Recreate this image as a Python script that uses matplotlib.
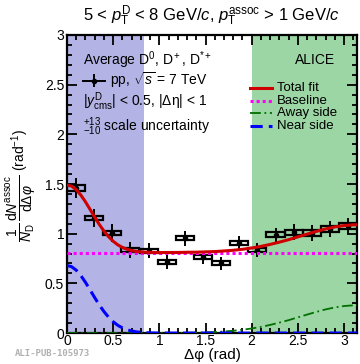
import numpy as np
import matplotlib
matplotlib.use('Agg')
import matplotlib.pyplot as plt
from matplotlib.patches import Rectangle
from matplotlib.ticker import MultipleLocator, FormatStrFormatter

plt.rcParams['font.family'] = ['Liberation Sans', 'DejaVu Sans']
plt.rcParams['mathtext.fontset'] = 'custom'
plt.rcParams['mathtext.rm'] = 'Liberation Sans'
plt.rcParams['mathtext.it'] = 'Liberation Sans:italic'
plt.rcParams['mathtext.bf'] = 'Liberation Sans:bold'

# ----------------------- #
# D-hadron azimuthal correlation, pp 7 TeV
# ----------------------- #

# data points (bin centres, yield, stat err, syst box half-height)
dphi = [0.098, 0.295, 0.491, 0.687, 0.884, 1.080, 1.276, 1.473,
        1.669, 1.865, 2.062, 2.258, 2.454, 2.651, 2.847, 3.043]
yields = [1.457, 1.155, 1.004, 0.836, 0.829, 0.718, 0.953, 0.762,
          0.702, 0.903, 0.832, 0.987, 1.014, 1.004, 1.044, 1.077]
stat_err = [0.10, 0.09, 0.09, 0.08, 0.075, 0.07, 0.075, 0.065,
            0.067, 0.075, 0.07, 0.072, 0.08, 0.08, 0.08, 0.085]
syst_err = [0.03, 0.022, 0.02, 0.02, 0.02, 0.02, 0.02, 0.02,
            0.02, 0.02, 0.02, 0.025, 0.025, 0.03, 0.03, 0.03]
bin_width = 0.196

# fit components
fit_x = [0.0, 0.05, 0.1, 0.15, 0.2, 0.25, 0.3, 0.35, 0.4, 0.45, 0.5, 0.55, 0.6, 0.65,
         0.7, 0.75, 0.8, 0.85, 0.9, 1.0, 1.1, 1.2, 1.3, 1.4, 1.5, 1.6, 1.7, 1.8, 1.9,
         2.0, 2.1, 2.2, 2.3, 2.4, 2.5, 2.6, 2.7, 2.8, 2.9, 3.0, 3.1, 3.1416]
near_side = [0.680, 0.668, 0.633, 0.579, 0.511, 0.435, 0.357, 0.283, 0.217, 0.160,
             0.114, 0.078, 0.052, 0.033, 0.021, 0.012, 0.007, 0.004, 0.002, 0.0,
             0.0, 0.0, 0.0, 0.0, 0.0, 0.0, 0.0, 0.0, 0.0, 0.0, 0.0, 0.0, 0.0, 0.0,
             0.0, 0.0, 0.0, 0.0, 0.0, 0.0, 0.0, 0.0]
away_side = [0.0, 0.0, 0.0, 0.0, 0.0, 0.0, 0.0, 0.0, 0.0, 0.0, 0.0, 0.0, 0.0, 0.0,
             0.0, 0.0, 0.0, 0.0, 0.0, 0.0, 0.001, 0.001, 0.003, 0.004, 0.007, 0.010,
             0.016, 0.023, 0.033, 0.046, 0.062, 0.082, 0.105, 0.130, 0.158, 0.186,
             0.213, 0.238, 0.258, 0.272, 0.279, 0.280]
total_fit = [1.490, 1.478, 1.443, 1.389, 1.321, 1.245, 1.167, 1.093, 1.027, 0.970,
             0.924, 0.888, 0.862, 0.843, 0.831, 0.822, 0.817, 0.814, 0.812, 0.810,
             0.811, 0.811, 0.813, 0.814, 0.817, 0.820, 0.826, 0.833, 0.843, 0.856,
             0.872, 0.892, 0.915, 0.940, 0.968, 0.996, 1.023, 1.048, 1.068, 1.082,
             1.089, 1.090]
baseline = 0.81

near_region = [0.0, 0.83]
away_region = [2.0, np.pi]

fig = plt.figure(figsize=(3.6, 3.64), dpi=100)
ax = fig.add_axes([0.186, 0.085, 0.806, 0.819])

# shaded regions
ax.axvspan(near_region[0], near_region[1], color='#b3b3e6', lw=0, zorder=0)
ax.axvspan(away_region[0], away_region[1], color='#9cd6a4', lw=0, zorder=0)

# systematic boxes
for x, y, s in zip(dphi, yields, syst_err):
    ax.add_patch(Rectangle((x - bin_width / 2, y - s), bin_width, 2 * s,
                           fill=False, edgecolor='black', lw=1.6, zorder=3))
# stat errors
ax.errorbar(dphi, yields, yerr=stat_err, fmt='o', ms=3, color='black',
            elinewidth=1.4, capsize=0, zorder=4)

# fit curves
ax.plot([0, np.pi], [baseline, baseline], color='#ff00ff', lw=2.2, ls=(0, (1, 1)), zorder=5)
ax.plot(fit_x, away_side, color='#007000', lw=1.3, ls=(0, (6, 2, 1, 2)), zorder=5)
ax.plot(fit_x, near_side, color='#0000ff', lw=2.2, ls=(0, (4, 2)), zorder=5)
ax.plot(fit_x, total_fit, color='#d00000', lw=2.2, zorder=6)

ax.set_xlim(0, np.pi)
ax.set_ylim(0, 3)
ax.xaxis.set_major_locator(MultipleLocator(0.5))
ax.xaxis.set_minor_locator(MultipleLocator(0.1))
ax.yaxis.set_major_locator(MultipleLocator(0.5))
ax.yaxis.set_minor_locator(MultipleLocator(0.1))
ax.xaxis.set_major_formatter(FormatStrFormatter('%g'))
ax.yaxis.set_major_formatter(FormatStrFormatter('%g'))
ax.tick_params(which='both', direction='in', top=True, right=True, width=1.3, labelsize=10)
ax.tick_params(which='major', length=7)
ax.tick_params(axis='x', which='major', pad=1)
ax.tick_params(axis='y', which='major', pad=2)
ax.tick_params(which='minor', length=3.5)
for sp in ax.spines.values():
    sp.set_linewidth(1.6)

# left legend block
ax.text(0.055, 0.916, 'Average D$^0$, D$^+$, D$^{*+}$', transform=ax.transAxes,
        fontsize=10, va='center', ha='left')
ax.plot([0.054, 0.131], [0.847, 0.847], color='black', lw=1.4, transform=ax.transAxes)
ax.plot([0.0925, 0.0925], [0.830, 0.864], color='black', lw=1.4, transform=ax.transAxes)
ax.plot([0.0925], [0.847], 'o', ms=3, color='black', transform=ax.transAxes)
ax.text(0.148, 0.847, r'pp, $\sqrt{s}$ = 7 TeV', transform=ax.transAxes,
        fontsize=10, va='center', ha='left')
ax.text(0.055, 0.776, r'|$y^{\rm D}_{\rm cms}$| < 0.5, |Δη| < 1', transform=ax.transAxes,
        fontsize=10, va='center', ha='left')
ax.text(0.055, 0.692, r'${}^{+13}_{-10}$ scale uncertainty', transform=ax.transAxes,
        fontsize=10, va='center', ha='left')

ax.text(0.855, 0.916, 'ALICE', transform=ax.transAxes, fontsize=10, va='center', ha='center')

# right legend block
legend_rows = [('Total fit', dict(color='#d00000', lw=2.2)),
               ('Baseline', dict(color='#ff00ff', lw=2.2, ls=(0, (1, 1)))),
               ('Away side', dict(color='#007000', lw=1.3, ls=(0, (6, 2, 1, 2)))),
               ('Near side', dict(color='#0000ff', lw=2.2, ls=(0, (4, 2))))]
row_y = [0.823, 0.780, 0.739, 0.696]
for (lab, st), yy in zip(legend_rows, row_y):
    ax.plot([0.631, 0.706], [yy, yy], transform=ax.transAxes, **st)
    ax.text(0.723, yy, lab, transform=ax.transAxes, fontsize=9.5, va='center', ha='left')

fig.text(211 / 360, 1 - 16 / 364,
         r'5 < $p_{\rm T}^{\rm D}$ < 8 GeV/$c$, $p_{\rm T}^{\rm assoc}$ > 1 GeV/$c$',
         fontsize=12, ha='center', va='center')
fig.text(212 / 360, 1 - 355 / 364, 'Δφ (rad)', fontsize=11, ha='center', va='center')
fig.text(22 / 360, 1 - 185 / 364,
         r'$\dfrac{1}{N_{\rm D}}\,\dfrac{{\rm d}N^{\rm assoc}}{{\rm d}\Delta\varphi}$ (rad$^{-1}$)',
         fontsize=10, rotation=90, ha='center', va='center')
fig.text(15 / 360, 1 - 354 / 364, 'ALI-PUB-105973', fontsize=6.5, family='DejaVu Sans Mono',
         weight='bold', color='#b0b0b0', ha='left', va='center')

fig.savefig('out.png', dpi=100)
